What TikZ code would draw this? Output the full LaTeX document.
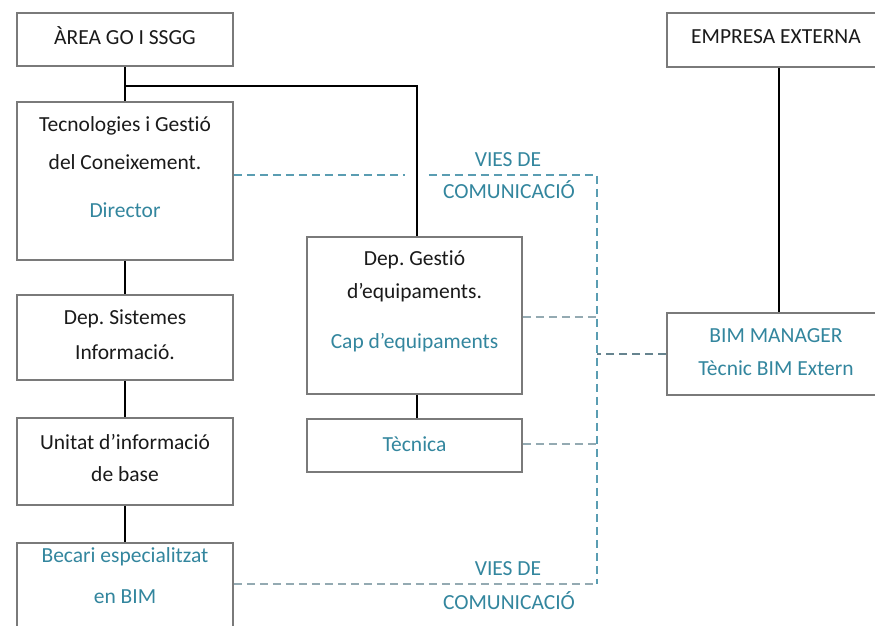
\documentclass[tikz,border=0pt]{standalone}
\usepackage{fontspec}
\setmainfont{Carlito}[Ligatures={NoCommon}]
\definecolor{boxline}{HTML}{7A7A7A}
\definecolor{ink}{HTML}{1A1A1A}
\definecolor{role}{HTML}{33869E}
\definecolor{commtop}{HTML}{5A9DB2}
\definecolor{commsoft}{HTML}{94AAB2}
\definecolor{commdark}{HTML}{66848F}
\tikzset{
  box/.style={draw=boxline, line width=1.6pt, rectangle, inner sep=0pt},
  txt/.style={inner sep=0pt, text=ink, font=\fontsize{21.5}{25}\selectfont},
  roletxt/.style={txt, text=role},
  conn/.style={draw=black, line width=1.6pt},
  commbase/.style={line width=1.6pt, dash pattern=on 8pt off 5pt},
  comm/.style={commbase, draw=commtop},
  commlight/.style={commbase, draw=commsoft},
  commstrong/.style={commbase, draw=commdark},
}
\begin{document}
\frenchspacing
\begin{tikzpicture}[x=1pt, y=-1pt]
\clip (0,0) rectangle (875,626);
\fill[white] (0,0) rectangle (875,626);

% boxes (sizes in px of the final image)
\node[box, minimum width=216pt, minimum height=53pt]  (area) at (125,39.5)  {};
\node[box, minimum width=216pt, minimum height=158pt] (tec)  at (125,181)   {};
\node[box, minimum width=216pt, minimum height=85pt]  (sis)  at (125,337.5) {};
\node[box, minimum width=216pt, minimum height=87pt]  (uni)  at (125,461.5) {};
\node[box, minimum width=216pt, minimum height=100pt] (bec)  at (125,593)   {};
\node[box, minimum width=215pt, minimum height=157pt] (gest) at (414.5,315.5) {};
\node[box, minimum width=215pt, minimum height=53pt]  (tcn)  at (414.5,445.5) {};
\node[box, minimum width=218pt, minimum height=54pt]  (emp)  at (776,40)    {};
\node[box, minimum width=218pt, minimum height=82pt]  (bim)  at (776,354)   {};

% texts
\node[txt] (areaT) at (125,36) {ÀREA GO I SSGG};
\node[txt] (tecT1) at (125,126) {Tecnologies i Gestió};
\node[txt] (tecT2) at (125,162) {del Coneixement.};
\node[roletxt] (tecT3) at (125,210) {Director};
\node[txt] (sisT1) at (125,319) {Dep. Sistemes};
\node[txt] (sisT2) at (125,352) {Informació.};
\node[txt] (uniT1) at (125,442) {Unitat d’informació};
\node[txt] (uniT2) at (125,474) {de base};
\node[roletxt] (becT1) at (125,557) {Becari especialitzat};
\node[roletxt] (becT2) at (125,597) {en BIM};
\node[txt] (gestT1) at (414.5,260) {Dep. Gestió};
\node[txt] (gestT2) at (414.5,293) {d’equipaments.};
\node[roletxt] (gestT3) at (414.5,343) {Cap d’equipaments};
\node[roletxt] (tcnT) at (414.5,444) {Tècnica};
\node[txt] (empT) at (776,37) {EMPRESA EXTERNA};
\node[roletxt] (bimT1) at (776,336) {BIM MANAGER};
\node[roletxt] (bimT2) at (776,368) {Tècnic BIM Extern};
\node[roletxt] (via1a) at (508,160) {VIES DE};
\node[roletxt] (via1b) at (509,190) {COMUNICACIÓ};
\node[roletxt] (via2a) at (508,569) {VIES DE};
\node[roletxt] (via2b) at (509,601) {COMUNICACIÓ};

% communication channels (dashed)
\coordinate (busT) at (597,175);
\coordinate (busB) at (597,584);
\coordinate (gestR) at ([yshift=-1.5pt]gest.east);
\coordinate (tcnR) at ([yshift=1.5pt]tcn.east);
\draw[comm] (tec.east |- busT) -- (busT) -- (busB);
\draw[commlight] (bec.east |- busB) -- (busB);
\draw[commlight] (gestR) -- (busT |- gestR);
\draw[commlight] (tcnR) -- (busT |- tcnR);
\draw[commstrong] (bim.west) -- (busT |- bim.west);

% gap in the dashed line where the solid link crosses it
\coordinate (cross) at (gest.north |- busT);
\fill[white] ([xshift=-10pt,yshift=-3pt]cross) rectangle ([xshift=12pt,yshift=3pt]cross);

% hierarchy (solid)
\coordinate (split) at (area.south |- 0,86);
\draw[conn] (area.south) -- (tec.north);
\draw[conn] (split) -| ([xshift=2.5pt]gest.north);
\draw[conn] (tec.south) -- (sis.north);
\draw[conn] (sis.south) -- (uni.north);
\draw[conn] (uni.south) -- (bec.north);
\draw[conn] ([xshift=2.5pt]gest.south) -- ([xshift=2.5pt]tcn.north);
\draw[conn] ([xshift=3pt]emp.south) -- ([xshift=3pt]bim.north);
\end{tikzpicture}
\end{document}
